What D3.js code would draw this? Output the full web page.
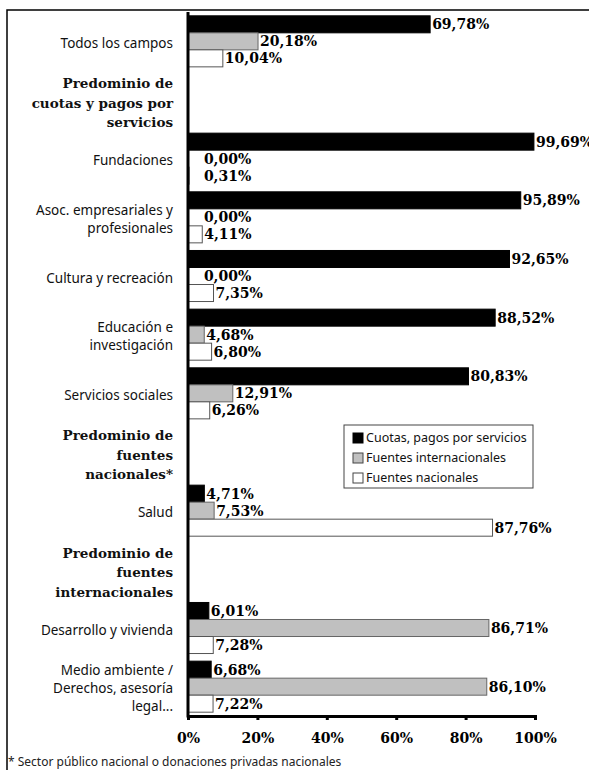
<!DOCTYPE html>
<html>
<head>
<meta charset="utf-8">
<script src="https://cdn.jsdelivr.net/npm/d3@7"></script>
<style>
  html, body { margin: 0; padding: 0; background: #fff; }
  svg { display: block; }
</style>
</head>
<body>
<svg id="chart" width="589" height="770"></svg>
<script>
// Row labels (categories and group headings); "\n" marks a line break
const rowLabels = [
  "Todos los campos",
  "Predominio de\ncuotas y pagos por\nservicios",
  "Fundaciones",
  "Asoc. empresariales y\nprofesionales",
  "Cultura y recreación",
  "Educación e\ninvestigación",
  "Servicios sociales",
  "Predominio de\nfuentes\nnacionales*",
  "Salud",
  "Predominio de\nfuentes\ninternacionales",
  "Desarrollo y vivienda",
  "Medio ambiente /\nDerechos, asesoría\nlegal..."
];
const rowIsHeading = [false, true, false, false, false, false, false, true, false, true, false, false];

// Share of income by source (%); null on heading rows
const cuotas          = [69.78, null, 99.69, 95.89, 92.65, 88.52, 80.83, null, 4.71, null, 6.01, 6.68];
const internacionales = [20.18, null, 0.00, 0.00, 0.00, 4.68, 12.91, null, 7.53, null, 86.71, 86.10];
const nacionales      = [10.04, null, 0.31, 4.11, 7.35, 6.80, 6.26, null, 87.76, null, 7.28, 7.22];

const seriesNames = ["Cuotas, pagos por servicios", "Fuentes internacionales", "Fuentes nacionales"];
const seriesValues = [cuotas, internacionales, nacionales];
const seriesFill = ["#000000", "#c0c0c0", "#ffffff"];
const seriesStroke = ["#000000", "#666666", "#555555"];

const xTicks = [0, 20, 40, 60, 80, 100];
const footnote = "* Sector público nacional o donaciones privadas nacionales";

const svg = d3.select("#chart");
const serifBold = "'DejaVu Serif', serif";
const sans = "'Noto Sans', 'DejaVu Sans', sans-serif";

const x = d3.scaleLinear().domain([0, 100]).range([188, 535]);
const y = d3.scaleBand()
  .domain(d3.range(rowLabels.length))
  .range([12, 716])
  .paddingInner(0.13)
  .paddingOuter(0.065);
const ySub = d3.scaleBand().domain(d3.range(seriesNames.length)).range([0, y.bandwidth()]);

const fmt = v => v.toFixed(2).replace(".", ",") + "%";

// Outer frame (top and left edges)
svg.append("path")
  .attr("d", "M7,770V10H589")
  .attr("fill", "none")
  .attr("stroke", "#000")
  .attr("stroke-width", 1.5);

// Bars
const barData = [];
rowLabels.forEach((lab, i) => {
  if (rowIsHeading[i]) return;
  seriesValues.forEach((vals, s) => barData.push({ row: i, s, value: vals[i] }));
});

svg.append("g").selectAll("rect")
  .data(barData)
  .join("rect")
  .attr("x", x(0))
  .attr("y", d => y(d.row) + ySub(d.s))
  .attr("width", d => x(d.value) - x(0))
  .attr("height", ySub.bandwidth())
  .attr("fill", d => seriesFill[d.s])
  .attr("stroke", d => seriesStroke[d.s])
  .attr("stroke-width", 1);

// Value labels
svg.append("g").selectAll("text")
  .data(barData)
  .join("text")
  .attr("x", d => Math.max(x(d.value), x(4)) + 2)
  .attr("y", d => y(d.row) + ySub(d.s) + ySub.bandwidth() / 2)
  .attr("dy", "0.36em")
  .attr("font-family", serifBold)
  .attr("font-weight", "bold")
  .attr("font-size", 14)
  .text(d => fmt(d.value));

// Row labels and headings
const labelG = svg.append("g");
rowLabels.forEach((lab, i) => {
  const lines = lab.split("\n");
  const heading = rowIsHeading[i];
  const lh = heading ? 19.5 : 18;
  const cy = y(i) + y.bandwidth() / 2 + (heading ? 3 : 2);
  const t = labelG.append("text")
    .attr("text-anchor", "end")
    .attr("font-family", heading ? serifBold : sans)
    .attr("font-weight", heading ? "bold" : "normal")
    .attr("font-size", heading ? 13.5 : 13.5)
    .attr("fill", "#111");
  lines.forEach((ln, k) => {
    t.append("tspan")
      .attr("x", 173)
      .attr("y", cy + (k - (lines.length - 1) / 2) * lh)
      .attr("dy", "0.35em")
      .text(ln);
  });
});

// X axis
const xAxis = d3.axisBottom(x)
  .tickValues(xTicks)
  .tickSize(4)
  .tickSizeOuter(4)
  .tickPadding(13)
  .tickFormat(d => d + "%");
const gx = svg.append("g")
  .attr("transform", `translate(0,${y.range()[1]})`)
  .call(xAxis);
gx.select(".domain").attr("stroke-width", 3);
gx.selectAll(".tick line").attr("stroke-width", 3);
gx.selectAll(".tick text")
  .attr("font-family", serifBold)
  .attr("font-weight", "bold")
  .attr("font-size", 14)
  .attr("fill", "#000");

// Vertical category axis line
svg.append("line")
  .attr("x1", x(0)).attr("x2", x(0))
  .attr("y1", y.range()[0]).attr("y2", y.range()[1] + 1.5)
  .attr("stroke", "#000")
  .attr("stroke-width", 3);

// Legend
const lg = svg.append("g").attr("transform", "translate(344,425)");
lg.append("rect")
  .attr("width", 189).attr("height", 63)
  .attr("fill", "#fff")
  .attr("stroke", "#444")
  .attr("stroke-width", 1);
seriesNames.forEach((name, s) => {
  const row = lg.append("g").attr("transform", `translate(9,${13 + s * 20})`);
  row.append("rect")
    .attr("x", 0).attr("y", -5)
    .attr("width", 10).attr("height", 10)
    .attr("fill", seriesFill[s])
    .attr("stroke", seriesStroke[s] === "#000000" ? "#000" : "#444")
    .attr("stroke-width", 1);
  row.append("text")
    .attr("x", 13)
    .attr("dy", "0.35em")
    .attr("font-family", sans)
    .attr("font-size", 12.5)
    .attr("fill", "#111")
    .text(name);
});

// Footnote
svg.append("text")
  .attr("x", 8)
  .attr("y", 766)
  .attr("font-family", sans)
  .attr("font-size", 12)
  .attr("fill", "#222")
  .text(footnote);
</script>
</body>
</html>
